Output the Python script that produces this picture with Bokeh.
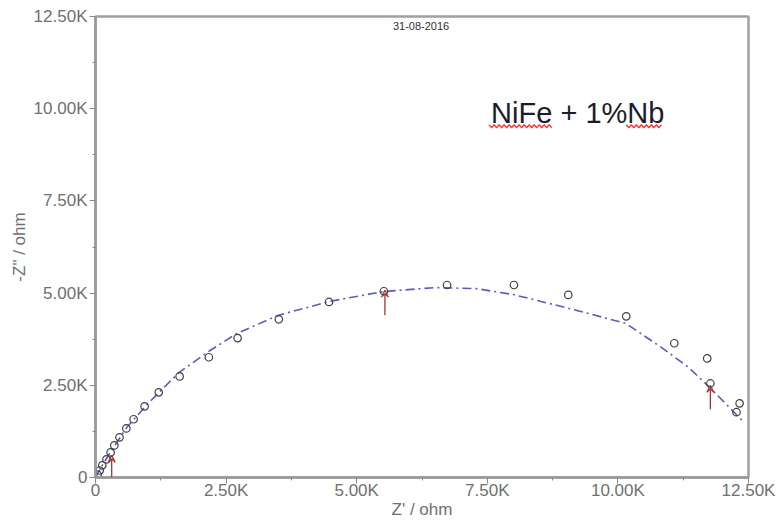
from bokeh.plotting import figure
from bokeh.models import FixedTicker, Label, Arrow, VeeHead
from bokeh.embed import file_html
from bokeh.resources import INLINE
import numpy as np

# Measured impedance points (ohm)
z_real = [40, 80, 130, 210, 290, 360, 460, 590, 730, 940, 1210, 1610, 2170, 2720,
          3510, 4470, 5520, 6730, 8010, 9050, 10160, 11080, 11710, 11770, 12270, 12330]
z_imag = [80, 190, 330, 490, 680, 870, 1090, 1330, 1580, 1930, 2310, 2740, 3260, 3780,
          4290, 4760, 5050, 5220, 5220, 4950, 4370, 3640, 3230, 2550, 1770, 2010]

# Fitted curve (ohm)
fit_real = [0, 100, 300, 600, 1000, 1600, 2200, 2700, 3500, 4500, 5500, 6500, 7300,
            8000, 9050, 10150, 10830, 11350, 11750, 12420]
fit_imag = [0, 260, 720, 1360, 2000, 2850, 3450, 3900, 4400, 4780, 5040, 5150, 5120,
            4960, 4590, 4180, 3530, 2990, 2450, 1490]

# Marker arrows (ohm)
arrow_x = [310, 5540, 11770]
arrow_y0 = [0, 4400, 1850]
arrow_y1 = [600, 5080, 2500]

ticks = [0, 2500, 5000, 7500, 10000, 12500]
minor = [1250, 3750, 6250, 8750, 11250]
tick_labels = ["0", "2.50K", "5.00K", "7.50K", "10.00K", "12.50K"]

title_text = "NiFe + 1%Nb"
date_text = "31-08-2016"

p = figure(width=776, height=523, output_backend="svg", toolbar_location=None,
           x_range=(0, 12500), y_range=(0, 12500),
           min_border_left=95, min_border_right=28, min_border_top=16, min_border_bottom=46)
p.grid.visible = False
p.outline_line_color = "#a0a0a0"
p.outline_line_width = 2.5
p.background_fill_color = "white"
p.border_fill_color = "white"

for ax in (p.xaxis[0], p.yaxis[0]):
    ax.ticker = FixedTicker(ticks=ticks, minor_ticks=minor)
    ax.major_label_overrides = {t: l for t, l in zip(ticks, tick_labels)}
    ax.axis_line_color = "#9a9a9a"
    ax.axis_line_width = 2.5
    ax.major_tick_line_color = "#8a8a8a"
    ax.minor_tick_line_color = "#8a8a8a"
    ax.major_tick_out = 6
    ax.major_tick_in = 0
    ax.minor_tick_out = 3
    ax.minor_tick_in = 0
    ax.major_label_text_font = "Liberation Sans"
    ax.major_label_text_font_size = "17px"
    ax.major_label_text_color = "#707070"
    ax.axis_label_text_font = "Liberation Sans"
    ax.axis_label_text_font_size = "17px"
    ax.axis_label_text_color = "#707070"
    ax.axis_label_text_font_style = "normal"

p.xaxis.axis_label = "Z' / ohm"
p.yaxis.axis_label = '-Z" / ohm'
p.xaxis.major_label_standoff = -3
p.xaxis.axis_label_standoff = -3
p.yaxis.major_label_standoff = 2
p.yaxis.axis_label_standoff = 2

p.line(fit_real, fit_imag, line_color="#5a5ac0", line_width=1.6, line_dash="9 4 2 4")
p.scatter(z_real, z_imag, marker="circle", size=7.5, fill_color=None,
          line_color="#404040", line_width=1.2)

for x, y0, y1 in zip(arrow_x, arrow_y0, arrow_y1):
    p.add_layout(Arrow(x_start=x, y_start=y0, x_end=x, y_end=y1,
                       line_color="#a83434", line_width=1.3,
                       end=VeeHead(size=7, line_color="#a83434", line_width=1.2,
                                   fill_color=None)))

# annotation text
tx, ty = 7573, 9891
p.add_layout(Label(x=tx, y=ty, text=title_text, text_font="Liberation Sans",
                   text_font_size="29px", text_color="#1c1c2c", text_baseline="alphabetic"))

# spell-check style red wavy underlines under "NiFe" and "Nb" (derived from label position)
px_x = 12500 / 652.0
px_y = 12500 / 460.0
for start_px, len_px in ((-2, 64), (135, 36)):
    n = int(len_px / 2.5) + 1
    xs = tx + (start_px + np.arange(n) * 2.5) * px_x
    ys = ty - (12 + (np.arange(n) % 2) * 3.0) * px_y
    p.line(xs, ys, line_color="#ff3030", line_width=1.2)

p.add_layout(Label(x=5694, y=12230, text=date_text, text_font="Liberation Sans",
                   text_font_size="11px", text_color="#303030", text_baseline="middle"))

open("out.html", "w").write(file_html(p, INLINE))
